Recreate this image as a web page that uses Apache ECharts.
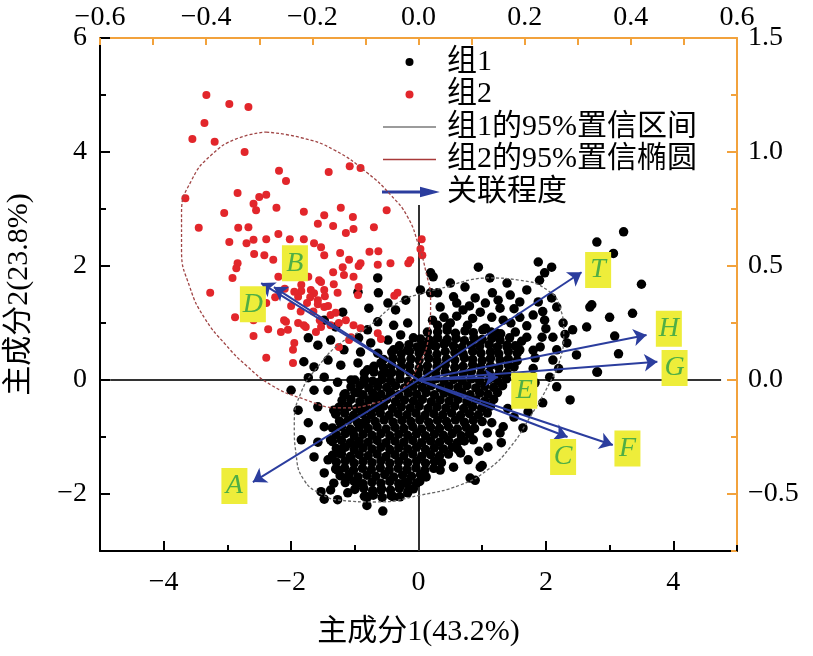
<!DOCTYPE html>
<html>
<head>
<meta charset="utf-8">
<script src="https://cdn.jsdelivr.net/npm/echarts@6/dist/echarts.min.js"></script>
<style>html,body{margin:0;padding:0;background:#fff}#c{width:813px;height:656px}</style>
</head>
<body>
<div id="c"></div>
<script>
// ---- data ----
// group 1: scattered fringe points
const group1Fringe = [
[-0.64,1.79],[-0.95,1.54],[-0.63,1.53],[-0.78,1.26],[-0.48,1.35],[-0.36,1.23],[-0.2,1.4],[-1.19,1.19],[-1.48,1.05],[-1.3,0.93],[-0.64,1.02],[-0.8,0.88],[-0.39,0.96],[-0.17,1.0],[-1.73,0.74],[-1.38,0.7],[-0.94,0.74],[-0.75,0.65],[-0.48,0.7],[-0.28,0.79],[-0.08,0.74],[0.14,0.84],[0.3,0.96],[0.45,0.93],[-1.58,0.61],[-1.17,0.53],[-0.91,0.49],[-0.64,0.47],[-0.39,0.53],[-0.17,0.53],[0.03,0.58],[0.23,0.61],[0.42,0.65],[-1.8,0.32],[-1.64,0.23],[-1.42,0.35],[-1.22,0.26],[-0.95,0.3],[-0.8,0.18],[-0.59,0.3],[-0.48,0.12],[-0.28,0.21],[-1.73,0.04],[-1.48,0.05],[-1.27,-0.04],[-1.06,0.0],[-0.86,-0.05],[-0.64,-0.05],[-2.0,-0.18],[-1.64,-0.18],[-1.42,-0.18],[-1.17,-0.26],[-0.94,-0.23],[-0.7,-0.3],[-0.44,-0.23],[-1.89,-0.53],[-1.58,-0.47],[-1.33,-0.53],[-1.11,-0.47],[-0.88,-0.53],[-0.64,-0.49],[-1.73,-0.75],[-1.48,-0.82],[-1.22,-0.75],[-1.03,-0.91],[-0.86,-0.75],[-1.84,-1.05],[-1.58,-1.09],[-1.38,-1.05],[-1.17,-1.18],[-0.95,-1.11],[-1.64,-1.35],[-1.42,-1.4],[-1.27,-1.28],[-1.06,-1.37],[-1.48,-1.63],[-1.27,-1.58],[-1.11,-1.7],[-1.33,-1.81],[-0.95,-1.81],[-1.11,-1.98],[-0.8,-2.05],[-0.59,-1.93],[-0.39,-2.05],[-0.17,-1.98],[-0.23,-1.81],[-1.38,-1.93],[-1.53,-1.96],[-1.48,-2.09],[-1.27,-2.1],[-0.56,-2.3],[-0.81,-2.2],[0.89,-1.76],
[0.94,1.98],[1.12,1.79],[1.39,1.7],[0.73,1.63],[0.55,1.46],[0.89,1.44],[1.16,1.53],[1.44,1.49],[1.7,1.58],[1.59,1.37],[1.88,1.37],[2.09,1.44],[2.17,1.28],[0.34,1.28],[0.7,1.23],[0.97,1.19],[1.28,1.26],[1.33,1.05],[1.59,1.1],[1.8,1.14],[1.98,1.05],[2.27,1.0],[2.42,0.88],[0.22,1.05],[0.5,1.0],[0.77,0.96],[1.05,0.91],[1.23,0.82],[1.52,0.84],[1.7,0.75],[1.94,0.75],[2.11,0.75],[2.33,0.65],[2.17,0.53],[1.91,0.58],[1.59,0.53],[1.39,0.58],[2.48,0.44],[1.83,0.39],[2.11,0.35],[2.06,0.05],[2.8,0.14],[2.38,-0.35],[1.95,-0.4],[2.17,-0.12],[1.83,-0.05],[1.72,-0.56],[1.33,-0.82],[1.08,-0.93],[1.28,-0.93],[1.64,-0.84],[1.09,-1.18],[0.97,-1.53],[0.81,-1.72],[0.66,-1.28],[0.86,-1.05],[0.34,-1.58],[0.55,-1.53],
[1.88,2.07],[1.98,1.88],[2.09,1.98],[1.9,1.75],[2.72,1.32],[2.64,0.93],[0.19,1.88],[0.3,1.53],[0.5,1.7],[0.23,1.81],[0.19,1.53],[0.03,1.58],
[3.22,2.6],[2.8,2.42],[3.06,2.22],[3.5,1.68],[3.36,1.17],[3.0,1.1],[2.69,1.28],[3.08,0.77],[3.14,0.46],[2.81,0.14],[1.0,-1.5],
[0.4,1.1],[0.6,1.12],[0.85,1.08],[1.15,1.1],[1.45,1.0],[1.7,0.95],[1.62,0.68],[1.8,0.52],[2.0,0.9],[1.5,1.25],[1.05,1.35],[0.8,1.3],[0.6,1.35],[1.25,1.4],[1.95,1.2],[2.3,0.8],[2.2,0.2],[1.8,0.2],[1.7,-0.2],[1.55,-0.4],[1.5,-0.65],[1.4,-0.5],[1.3,-1.1],[1.15,-0.75],[0.95,-1.25],[0.78,-1.4]
];
// group 1: dense core, read row by row
const group1Core = [
[0.3,0.84],[0.45,0.87],[0.58,0.82],[0.73,0.86],[0.86,0.83],[1.01,0.88],[1.14,0.84],[1.29,0.81],
[0.03,0.72],[0.17,0.7],[0.3,0.74],[0.45,0.71],[0.59,0.73],[0.72,0.69],[0.87,0.74],[1.0,0.71],[1.15,0.73],[1.28,0.7],[1.43,0.74],
[-0.3,0.6],[-0.15,0.62],[-0.02,0.58],[0.12,0.61],[0.27,0.59],[0.4,0.63],[0.55,0.6],[0.68,0.57],[0.83,0.61],[0.96,0.59],[1.11,0.62],[1.24,0.58],[1.39,0.61],[1.52,0.6],
[-0.42,0.49],[-0.27,0.46],[-0.14,0.5],[0.01,0.47],[0.14,0.49],[0.29,0.45],[0.42,0.5],[0.57,0.48],[0.7,0.46],[0.85,0.5],[0.98,0.47],[1.13,0.49],[1.26,0.46],[1.41,0.5],[1.55,0.47],
[-0.55,0.36],[-0.4,0.38],[-0.27,0.34],[-0.12,0.37],[0.01,0.35],[0.16,0.38],[0.29,0.34],[0.44,0.37],[0.57,0.35],[0.72,0.39],[0.85,0.36],[1.0,0.34],[1.13,0.38],[1.28,0.35],[1.41,0.37],[1.55,0.34],
[-0.7,0.24],[-0.55,0.22],[-0.42,0.26],[-0.27,0.23],[-0.14,0.25],[0.01,0.21],[0.14,0.25],[0.29,0.23],[0.42,0.26],[0.57,0.22],[0.7,0.24],[0.85,0.27],[0.98,0.23],[1.13,0.25],[1.26,0.22],[1.41,0.26],[1.5,0.23],
[-0.85,0.12],[-0.7,0.14],[-0.57,0.1],[-0.42,0.13],[-0.29,0.11],[-0.14,0.14],[-0.01,0.1],[0.14,0.13],[0.27,0.11],[0.42,0.14],[0.55,0.1],[0.7,0.12],[0.83,0.15],[0.98,0.11],[1.11,0.13],[1.26,0.1],[1.39,0.12],
[-1.0,0.0],[-0.85,0.02],[-0.72,-0.02],[-0.57,0.01],[-0.44,-0.01],[-0.29,0.02],[-0.16,-0.02],[-0.01,0.01],[0.12,-0.01],[0.27,0.02],[0.4,-0.02],[0.55,0.01],[0.68,-0.01],[0.83,0.02],[0.96,-0.02],[1.11,0.01],[1.24,-0.01],[1.38,0.02],
[-1.06,-0.12],[-0.92,-0.1],[-0.78,-0.14],[-0.64,-0.11],[-0.5,-0.13],[-0.36,-0.1],[-0.22,-0.14],[-0.08,-0.11],[0.06,-0.13],[0.2,-0.1],[0.34,-0.14],[0.48,-0.11],[0.62,-0.13],[0.76,-0.1],[0.9,-0.14],[1.04,-0.11],[1.18,-0.13],[1.32,-0.1],
[-1.15,-0.24],[-1.0,-0.22],[-0.87,-0.26],[-0.72,-0.23],[-0.59,-0.25],[-0.44,-0.22],[-0.31,-0.26],[-0.16,-0.23],[-0.03,-0.25],[0.12,-0.22],[0.25,-0.26],[0.4,-0.23],[0.53,-0.25],[0.68,-0.22],[0.81,-0.26],[0.96,-0.23],[1.09,-0.25],[1.24,-0.22],
[-1.2,-0.36],[-1.06,-0.34],[-0.92,-0.38],[-0.78,-0.35],[-0.64,-0.37],[-0.5,-0.34],[-0.36,-0.38],[-0.22,-0.35],[-0.08,-0.37],[0.06,-0.34],[0.2,-0.38],[0.34,-0.35],[0.48,-0.37],[0.62,-0.34],[0.76,-0.38],[0.9,-0.35],[1.04,-0.37],[1.18,-0.34],
[-1.25,-0.48],[-1.11,-0.46],[-0.97,-0.5],[-0.83,-0.47],[-0.69,-0.49],[-0.55,-0.46],[-0.41,-0.5],[-0.27,-0.47],[-0.13,-0.49],[0.01,-0.46],[0.15,-0.5],[0.29,-0.47],[0.43,-0.49],[0.57,-0.46],[0.71,-0.5],[0.85,-0.47],[0.99,-0.49],[1.13,-0.46],
[-1.3,-0.6],[-1.16,-0.58],[-1.02,-0.62],[-0.88,-0.59],[-0.74,-0.61],[-0.6,-0.58],[-0.46,-0.62],[-0.32,-0.59],[-0.18,-0.61],[-0.04,-0.58],[0.1,-0.62],[0.24,-0.59],[0.38,-0.61],[0.52,-0.58],[0.66,-0.62],[0.8,-0.59],[0.94,-0.61],[1.08,-0.58],
[-1.24,-0.72],[-1.1,-0.7],[-0.96,-0.74],[-0.82,-0.71],[-0.68,-0.73],[-0.54,-0.7],[-0.4,-0.74],[-0.26,-0.71],[-0.12,-0.73],[0.02,-0.7],[0.16,-0.74],[0.3,-0.71],[0.44,-0.73],[0.58,-0.7],[0.72,-0.74],[0.86,-0.71],[1.0,-0.73],
[-1.35,-0.84],[-1.21,-0.82],[-1.07,-0.86],[-0.93,-0.83],[-0.79,-0.85],[-0.65,-0.82],[-0.51,-0.86],[-0.37,-0.83],[-0.23,-0.85],[-0.09,-0.82],[0.05,-0.86],[0.19,-0.83],[0.33,-0.85],[0.47,-0.82],[0.61,-0.86],[0.75,-0.83],[0.88,-0.85],
[-1.29,-0.96],[-1.15,-0.94],[-1.01,-0.98],[-0.87,-0.95],[-0.73,-0.97],[-0.59,-0.94],[-0.45,-0.98],[-0.31,-0.95],[-0.17,-0.97],[-0.03,-0.94],[0.11,-0.98],[0.25,-0.95],[0.39,-0.97],[0.53,-0.94],[0.67,-0.98],[0.8,-0.95],
[-1.35,-1.08],[-1.21,-1.06],[-1.07,-1.1],[-0.93,-1.07],[-0.79,-1.09],[-0.65,-1.06],[-0.51,-1.1],[-0.37,-1.07],[-0.23,-1.09],[-0.09,-1.06],[0.05,-1.1],[0.19,-1.07],[0.33,-1.09],[0.47,-1.06],[0.61,-1.1],[0.72,-1.07],
[-1.29,-1.2],[-1.15,-1.18],[-1.01,-1.22],[-0.87,-1.19],[-0.73,-1.21],[-0.59,-1.18],[-0.45,-1.22],[-0.31,-1.19],[-0.17,-1.21],[-0.03,-1.18],[0.11,-1.22],[0.25,-1.19],[0.39,-1.21],[0.53,-1.18],[0.62,-1.22],
[-1.35,-1.32],[-1.21,-1.3],[-1.07,-1.34],[-0.93,-1.31],[-0.79,-1.33],[-0.65,-1.3],[-0.51,-1.34],[-0.37,-1.31],[-0.23,-1.33],[-0.09,-1.3],[0.05,-1.34],[0.19,-1.31],[0.33,-1.33],[0.47,-1.3],
[-1.29,-1.44],[-1.15,-1.42],[-1.01,-1.46],[-0.87,-1.43],[-0.73,-1.45],[-0.59,-1.42],[-0.45,-1.46],[-0.31,-1.43],[-0.17,-1.45],[-0.03,-1.42],[0.11,-1.46],[0.25,-1.43],[0.36,-1.45],
[-1.3,-1.56],[-1.16,-1.54],[-1.02,-1.58],[-0.88,-1.55],[-0.74,-1.57],[-0.6,-1.54],[-0.46,-1.58],[-0.32,-1.55],[-0.18,-1.57],[-0.04,-1.54],[0.1,-1.58],[0.24,-1.55],
[-1.23,-1.68],[-1.09,-1.66],[-0.95,-1.7],[-0.81,-1.67],[-0.67,-1.69],[-0.53,-1.66],[-0.39,-1.7],[-0.25,-1.67],[-0.11,-1.69],[0.03,-1.66],[0.12,-1.7],
[-1.15,-1.8],[-1.01,-1.78],[-0.87,-1.82],[-0.73,-1.79],[-0.59,-1.81],[-0.45,-1.78],[-0.31,-1.82],[-0.17,-1.79],[-0.03,-1.81],[0.02,-1.78],
[-1.0,-1.92],[-0.86,-1.9],[-0.72,-1.94],[-0.58,-1.91],[-0.44,-1.93],[-0.3,-1.9],[-0.16,-1.94],[-0.08,-1.91],
[-0.85,-2.04],[-0.71,-2.02],[-0.57,-2.06],[-0.43,-2.03],[-0.29,-2.05]
];
const group2 = [
[-3.33,5.0],[-2.97,4.84],[-2.67,4.79],[-3.36,4.51],[-3.55,4.23],[-3.2,4.18],[-2.73,4.0],[-2.19,3.67],[-1.41,3.65],[-2.08,3.49],[-1.08,3.75],[-0.91,3.72],[-3.66,3.19],[-2.84,3.28],[-2.5,3.21],[-2.39,3.25],[-2.59,3.09],[-2.23,3.02],[-2.55,2.98],[-3.05,2.93],[-1.8,2.95],[-1.48,2.89],[-1.22,3.02],[-0.5,2.98],[-1.03,2.86],[-3.45,2.67],[-2.83,2.67],[-2.67,2.68],[-1.58,2.74],[-1.34,2.7],[-1.14,2.58],[-1.02,2.65],[-0.7,2.68],[-2.97,2.42],[-2.7,2.4],[-2.59,2.46],[-2.39,2.47],[-2.2,2.56],[-2.02,2.47],[-1.8,2.47],[-1.64,2.4],[-1.53,2.33],[0.05,2.47],[-2.58,2.21],[-2.42,2.19],[-2.28,2.11],[-1.48,2.19],[-1.23,2.23],[-1.09,2.11],[-0.91,2.05],[-0.77,2.25],[-0.63,2.26],[-0.44,2.05],[-0.16,2.05],[0.06,2.19],[-2.84,2.05],[-2.86,1.96],[-2.92,1.79],[-2.2,1.81],[-1.73,1.81],[-1.56,1.75],[-1.34,1.89],[-1.17,1.84],[-1.02,1.81],[-1.84,1.67],[-1.69,1.58],[-1.48,1.58],[-1.27,1.53],[-3.27,1.53],[-1.89,1.46],[-1.58,1.4],[-1.48,1.28],[-2.39,1.35],[-0.33,1.53],[-2.88,1.1],[-2.59,1.05],[-2.11,1.05],[-1.89,1.0],[-2.36,0.89],[-2.16,0.84],[-1.77,0.93],[-1.61,0.84],[-2.59,0.77],[-1.95,0.65],[-1.97,0.53],[-2.39,0.39],[-1.25,0.58],[-1.06,0.75],
[-1.19,1.98],[-0.94,2.0],[-0.64,2.02],[-0.13,2.1],[0.03,2.3],[-1.53,1.72],[-1.33,1.68],[-0.94,1.63],[-1.84,1.56],[-1.64,1.52],[-1.47,1.47],[-1.58,1.33],[-1.38,1.14],[-0.95,1.49],[-0.38,1.48],[-2.08,1.02],[-1.8,0.96],[-2.05,0.88],[-1.53,0.93],[-1.38,0.96],[-1.14,1.05],[-1.02,0.96],[-0.91,0.91],[-0.64,0.82],[-0.59,0.72],[-1.09,0.7],[-1.97,0.3],
[-1.75,1.35],[-1.65,1.2],[-1.55,1.05],[-1.42,1.3],[-1.3,1.18],[-1.25,1.0],[-1.7,1.45],[-1.95,1.55],[-2.1,1.6],[-2.25,1.45],[-2.0,1.3],[-1.85,1.2]
];
const ellipse1 = [[0.45,1.63],[1.08,1.79],[1.59,1.75],[2.02,1.58],[2.22,1.28],[2.28,0.82],[2.22,0.35],[2.06,-0.05],[1.75,-0.65],[1.44,-1.18],[1.08,-1.58],[0.66,-1.84],[0.03,-2.02],[-0.67,-2.14],[-1.22,-2.11],[-1.53,-2.0],[-1.8,-1.75],[-1.92,-1.32],[-1.95,-0.79],[-1.84,-0.21],[-1.56,0.26],[-1.22,0.65],[-0.8,0.93],[-0.33,1.35],[0.08,1.53],[0.45,1.63]];
const ellipse2 = [[-2.39,4.35],[-1.84,4.25],[-1.33,4.04],[-0.8,3.63],[-0.44,3.25],[-0.17,2.86],[0.0,2.37],[0.11,1.93],[0.19,1.4],[0.16,0.79],[0.0,0.26],[-0.28,-0.18],[-0.67,-0.4],[-1.22,-0.49],[-1.84,-0.32],[-2.31,-0.09],[-2.7,0.25],[-3.02,0.61],[-3.36,1.09],[-3.59,1.63],[-3.72,2.28],[-3.72,2.93],[-3.56,3.51],[-3.25,3.95],[-2.86,4.23],[-2.39,4.35]];
const loadingNames = ['A','B','C','D','E','F','G','H','T'];
const loadingTips = [[-2.6,-1.79],[-2.27,1.63],[2.34,-1.0],[-2.47,1.7],[1.25,0.05],[3.05,-1.14],[3.75,0.32],[3.58,0.79],[2.56,1.89]];
const labelPos = [[-2.89,-1.86],[-1.94,2.05],[2.27,-1.35],[-2.6,1.33],[1.66,-0.19],[3.28,-1.2],[4.02,0.21],[3.93,0.9],[2.82,1.93]];
const crossLines = [[[-4.84,0],[4.75,0]],[[0,3.07],[0,-3]]];
const xTicks = [-4,-2,0,2,4];
const yTicks = [-2,0,2,4,6];
const topTicks = [-0.6,-0.4,-0.2,0,0.2,0.4,0.6];
const rightTicks = [-0.5,0,0.5,1.0,1.5];
const seriesNames = ['组1','组2','组1的95%置信区间','组2的95%置信椭圆','关联程度'];

// ---- chart ----
const SERIF = "'Liberation Serif','Times New Roman','Noto Sans CJK SC',serif";
const ORANGE = '#f2a23c';
const minus = s => String(s).replace('-', '\u2212');
const fmt1 = v => Math.abs(v) < 1e-9 ? '0.0' : minus(v.toFixed(1));
const lblStyle = {color:'#000', fontFamily:SERIF, fontSize:28};

const chart = echarts.init(document.getElementById('c'), null, {renderer:'canvas'});
const linePath = 'path://M0,0L52,0L52,1.6L0,1.6Z';
const arrowPath = 'path://M0,3.5L38,3.5L38,0L53,4L38,8L38,4.5L0,4.5Z';

chart.setOption({
  animation:false,
  backgroundColor:'#fff',
  grid:{left:100,right:76,top:38,bottom:105,containLabel:false,outerBoundsMode:'none'},
  legend:{
    orient:'vertical', left:382, top:47, padding:0, itemGap:2.5,
    itemWidth:53, itemHeight:8, selectedMode:false,
    textStyle:{color:'#000', fontFamily:SERIF, fontSize:30, lineHeight:30, padding:[0,0,0,6]},
    data:[
      {name:seriesNames[0], icon:'circle'},
      {name:seriesNames[1], icon:'circle'},
      {name:seriesNames[2], icon:linePath},
      {name:seriesNames[3], icon:linePath},
      {name:seriesNames[4], icon:arrowPath}
    ]
  },
  xAxis:[
    {type:'value', position:'bottom', min:-5, max:5, interval:1,
     axisLine:{onZero:false, lineStyle:{color:'#000', width:2}},
     axisTick:{inside:true, length:10, customValues:xTicks, lineStyle:{color:'#000', width:2}},
     axisLabel:Object.assign({customValues:xTicks, margin:18, formatter:v=>minus(v)}, lblStyle),
     splitLine:{show:false},
     name:'主成分1(43.2%)', nameLocation:'middle', nameGap:66,
     nameTextStyle:{color:'#000', fontFamily:SERIF, fontSize:30}},
    {type:'value', position:'bottom', min:-5, max:5, interval:1,
     axisLine:{show:false, onZero:false},
     axisTick:{inside:true, length:6, lineStyle:{color:'#000', width:2}},
     axisLabel:{show:false}, splitLine:{show:false}},
    {type:'value', position:'top', min:-0.6, max:0.6, interval:0.1,
     axisLine:{onZero:false, lineStyle:{color:ORANGE, width:2}},
     axisTick:{inside:true, length:7, lineStyle:{color:ORANGE, width:2}},
     axisLabel:Object.assign({customValues:topTicks, margin:6, formatter:fmt1}, lblStyle),
     splitLine:{show:false}}
  ],
  yAxis:[
    {type:'value', position:'left', min:-3, max:6, interval:1,
     axisLine:{onZero:false, lineStyle:{color:'#000', width:2}},
     axisTick:{inside:true, length:10, customValues:yTicks, lineStyle:{color:'#000', width:2}},
     axisLabel:Object.assign({customValues:yTicks, margin:13, formatter:v=>minus(v)}, lblStyle),
     splitLine:{show:false},
     name:'主成分2(23.8%)', nameLocation:'middle', nameGap:66,
     nameTextStyle:{color:'#000', fontFamily:SERIF, fontSize:30}},
    {type:'value', position:'left', min:-3, max:6, interval:1,
     axisLine:{show:false, onZero:false},
     axisTick:{inside:true, length:6, lineStyle:{color:'#000', width:2}},
     axisLabel:{show:false}, splitLine:{show:false}},
    {type:'value', position:'right', min:-0.75, max:1.5, interval:0.25,
     axisLine:{onZero:false, lineStyle:{color:ORANGE, width:2}},
     axisTick:{inside:true, length:10, customValues:rightTicks, lineStyle:{color:ORANGE, width:2}},
     axisLabel:Object.assign({customValues:rightTicks, margin:11, formatter:fmt1}, lblStyle),
     splitLine:{show:false}},
    {type:'value', position:'right', min:-0.75, max:1.5, interval:0.25,
     axisLine:{show:false, onZero:false},
     axisTick:{inside:true, length:6, lineStyle:{color:ORANGE, width:2}},
     axisLabel:{show:false}, splitLine:{show:false}}
  ],
  series:[
    {type:'lines', name:'cross', coordinateSystem:'cartesian2d', xAxisIndex:0, yAxisIndex:0,
     silent:true, z:1, symbol:'none',
     lineStyle:{color:'#333', width:2, opacity:1},
     data:crossLines.map(c=>({coords:c}))},
    {type:'scatter', name:seriesNames[0], xAxisIndex:0, yAxisIndex:0, z:2,
     symbolSize:9.5, itemStyle:{color:'#000', opacity:1}, data:group1Fringe.concat(group1Core)},
    {type:'scatter', name:seriesNames[1], xAxisIndex:0, yAxisIndex:0, z:3,
     symbolSize:8, itemStyle:{color:'#e2262b', opacity:1}, data:group2},
    {type:'line', name:seriesNames[2], xAxisIndex:0, yAxisIndex:0, z:4,
     smooth:0.5, symbol:'none', showSymbol:false,
     itemStyle:{color:'#7a7a7a'}, lineStyle:{color:'#666', width:1.3, type:[3,2]},
     data:ellipse1},
    {type:'line', name:seriesNames[3], xAxisIndex:0, yAxisIndex:0, z:4,
     smooth:0.5, symbol:'none', showSymbol:false,
     itemStyle:{color:'#a83a3a'}, lineStyle:{color:'#a04545', width:1.3, type:[3,2]},
     data:ellipse2},
    {type:'lines', name:seriesNames[4], coordinateSystem:'cartesian2d', xAxisIndex:0, yAxisIndex:0, z:5,
     symbol:['none','arrow'], symbolSize:13,
     lineStyle:{color:'#2b3d9e', width:2, opacity:1},
     data:loadingTips.map(t=>({coords:[[0,0],t]}))},
    {type:'scatter', name:'labels', xAxisIndex:0, yAxisIndex:0, z:6, silent:true,
     symbol:'rect', symbolSize:[26,36], itemStyle:{color:'#eeed3a', opacity:1},
     label:{show:true, position:'inside', formatter:p=>loadingNames[p.dataIndex],
            color:'#4fae45', fontFamily:SERIF, fontStyle:'italic', fontSize:28},
     data:labelPos}
  ]
});
</script>
</body>
</html>
